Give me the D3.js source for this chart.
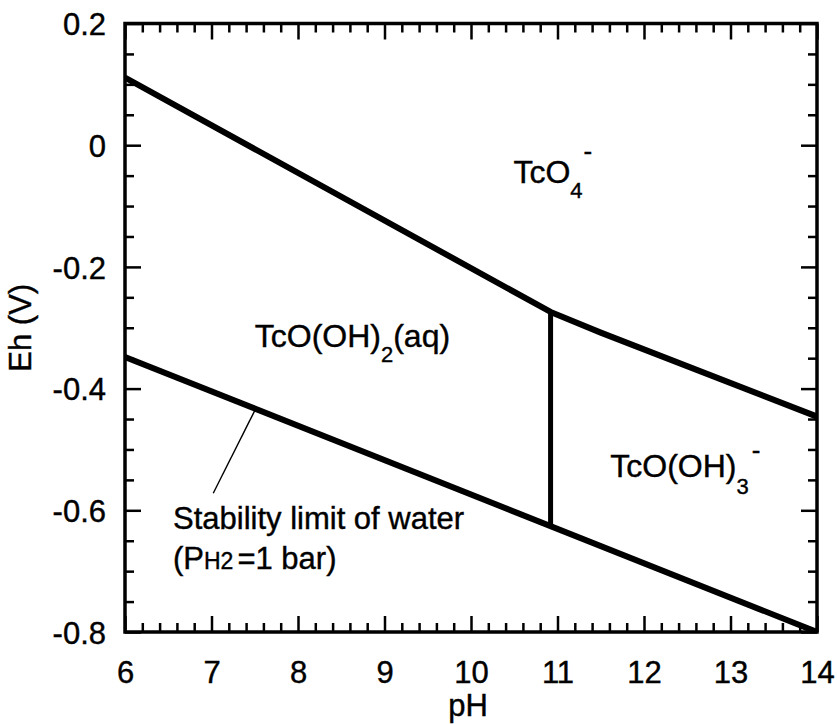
<!DOCTYPE html>
<html>
<head>
<meta charset="utf-8">
<script src="https://cdn.jsdelivr.net/npm/d3@7/dist/d3.min.js"></script>
<style>
  html, body { margin: 0; padding: 0; background: #fff; }
  svg { display: block; font-family: "Liberation Sans", Arial, Helvetica, sans-serif; }
  svg text { fill: #000; stroke: #000; stroke-width: 0.4px; }
</style>
</head>
<body>
<svg id="chart" width="837" height="724"></svg>
<script>
// Eh–pH diagram for technetium (TcO4- / TcO(OH)2(aq) / TcO(OH)3-)
const xMajorTicks = [6, 7, 8, 9, 10, 11, 12, 13, 14];
const yMajorTicks = [0.2, 0, -0.2, -0.4, -0.6, -0.8];
const yTickLabels = ["0.2", "0", "-0.2", "-0.4", "-0.6", "-0.8"];

// TcO4- upper boundary (against TcO(OH)2(aq), then TcO(OH)3-)
const upperPH = [6, 10.92, 11.5, 14];
const upperEh = [0.111, -0.274, -0.308, -0.446];

// Water stability limit, P(H2) = 1 bar
const waterPH = [6, 14];
const waterEh = [-0.348, -0.8];

// TcO(OH)2(aq) / TcO(OH)3- vertical boundary
const vertPH = [10.92, 10.92];
const vertEh = [-0.274, -0.626];

const svg = d3.select("#chart");
const mLeft = 125, mRight = 817, mTop = 23.5, mBottom = 632;

const x = d3.scaleLinear().domain([6, 14]).range([mLeft, mRight]);
const y = d3.scaleLinear().domain([-0.8, 0.2]).range([mBottom, mTop]);

const FS = 31;

// minor ticks
const xMinor = d3.range(6, 14.001, 0.2).filter(v => Math.abs(v - Math.round(v)) > 1e-6);
const yMinor = d3.range(-0.8, 0.2001, 0.05).filter(v => Math.abs(v / 0.2 - Math.round(v / 0.2)) > 1e-6);

function axisGroup(axis, tx, ty) {
  const g = svg.append("g").attr("transform", `translate(${tx},${ty})`).call(axis);
  g.select(".domain").remove();
  g.selectAll(".tick line").attr("stroke", "#000").attr("stroke-width", 2.5);
  return g;
}

// bottom axis with labels
const gb = axisGroup(d3.axisBottom(x).tickValues(xMajorTicks).tickSize(-16).tickPadding(0).tickFormat(d3.format("d")), 0, mBottom);
gb.selectAll(".tick text").attr("font-size", FS)
  .attr("y", 51).attr("dy", 0).attr("font-family", "Liberation Sans, Arial, sans-serif");
axisGroup(d3.axisBottom(x).tickValues(xMinor).tickSize(-9).tickFormat(""), 0, mBottom);
// top axis
axisGroup(d3.axisTop(x).tickValues(xMajorTicks).tickSize(-16).tickFormat(""), 0, mTop);
axisGroup(d3.axisTop(x).tickValues(xMinor).tickSize(-9).tickFormat(""), 0, mTop);
// left axis with labels
const gl = axisGroup(d3.axisLeft(y).tickValues(yMajorTicks).tickSize(-16)
  .tickFormat((d, i) => yTickLabels[i]), mLeft, 0);
gl.selectAll(".tick text").attr("font-size", FS)
  .attr("x", -19).attr("dy", "0.36em").attr("font-family", "Liberation Sans, Arial, sans-serif");
axisGroup(d3.axisLeft(y).tickValues(yMinor).tickSize(-9).tickFormat(""), mLeft, 0);
// right axis
axisGroup(d3.axisRight(y).tickValues(yMajorTicks).tickSize(-16).tickFormat(""), mRight, 0);
axisGroup(d3.axisRight(y).tickValues(yMinor).tickSize(-9).tickFormat(""), mRight, 0);

// frame
svg.append("rect").attr("x", mLeft).attr("y", mTop)
  .attr("width", mRight - mLeft).attr("height", mBottom - mTop)
  .attr("fill", "none").attr("stroke", "#000").attr("stroke-width", 3.5);

// axis titles
svg.append("text").attr("x", (mLeft + mRight) / 2 - 3).attr("y", 716)
  .attr("text-anchor", "middle").attr("font-size", FS).text("pH");
svg.append("text").attr("transform", `translate(31,${(mTop + mBottom) / 2}) rotate(-90)`)
  .attr("text-anchor", "middle").attr("font-size", FS).text("Eh (V)");

// boundaries
svg.append("clipPath").attr("id", "plotclip").append("rect")
  .attr("x", mLeft).attr("y", mTop).attr("width", mRight - mLeft).attr("height", mBottom - mTop);
const plot = svg.append("g").attr("clip-path", "url(#plotclip)");
const line = d3.line().x(d => x(d[0])).y(d => y(d[1]));

function drawLine(ph, eh, w) {
  plot.append("path").datum(ph.map((p, i) => [p, eh[i]]))
    .attr("d", line).attr("fill", "none").attr("stroke", "#000")
    .attr("stroke-width", w).attr("stroke-linejoin", "round");
}
drawLine(upperPH, upperEh, 6);
drawLine(waterPH, waterEh, 6);
drawLine(vertPH, vertEh, 5);

// leader line to the water limit
const leaderPH = 7.51;
const leaderEh = waterEh[0] + (waterEh[1] - waterEh[0]) * (leaderPH - waterPH[0]) / (waterPH[1] - waterPH[0]);
svg.append("line").attr("x1", x(7.02)).attr("y1", y(-0.572))
  .attr("x2", x(leaderPH)).attr("y2", y(leaderEh))
  .attr("stroke", "#000").attr("stroke-width", 1.4);

// species labels
function species(px, py, parts) {
  const t = svg.append("text").attr("x", x(px)).attr("y", y(py)).attr("font-size", 32);
  parts.forEach(p => {
    const s = t.append("tspan").text(p.t);
    if (p.fs) s.attr("font-size", p.fs);
    if (p.dy) s.attr("dy", p.dy);
    if (p.dx) s.attr("dx", p.dx);
  });
  return t;
}
species(10.49, -0.062, [
  { t: "TcO" }, { t: "4", fs: 22, dy: 15 }, { t: "-", fs: 26, dy: -38, dx: 1 }
]);
species(7.50, -0.332, [
  { t: "TcO(OH)" }, { t: "2", fs: 22, dy: 15 }, { t: "(aq)", dy: -15 }
]);
species(11.61, -0.546, [
  { t: "TcO(OH)" }, { t: "3", fs: 22, dy: 17 }, { t: "-", fs: 26, dy: -35, dx: 3 }
]);

// water limit label
svg.append("text").attr("x", x(6.555)).attr("y", y(-0.630)).attr("font-size", FS)
  .text("Stability limit of water");
const w2 = svg.append("text").attr("x", x(6.555)).attr("y", y(-0.696)).attr("font-size", FS);
w2.append("tspan").text("(P");
w2.append("tspan").attr("font-size", 23).text("H2");
w2.append("tspan").attr("dx", 4).text("=1 bar)");
</script>
</body>
</html>
